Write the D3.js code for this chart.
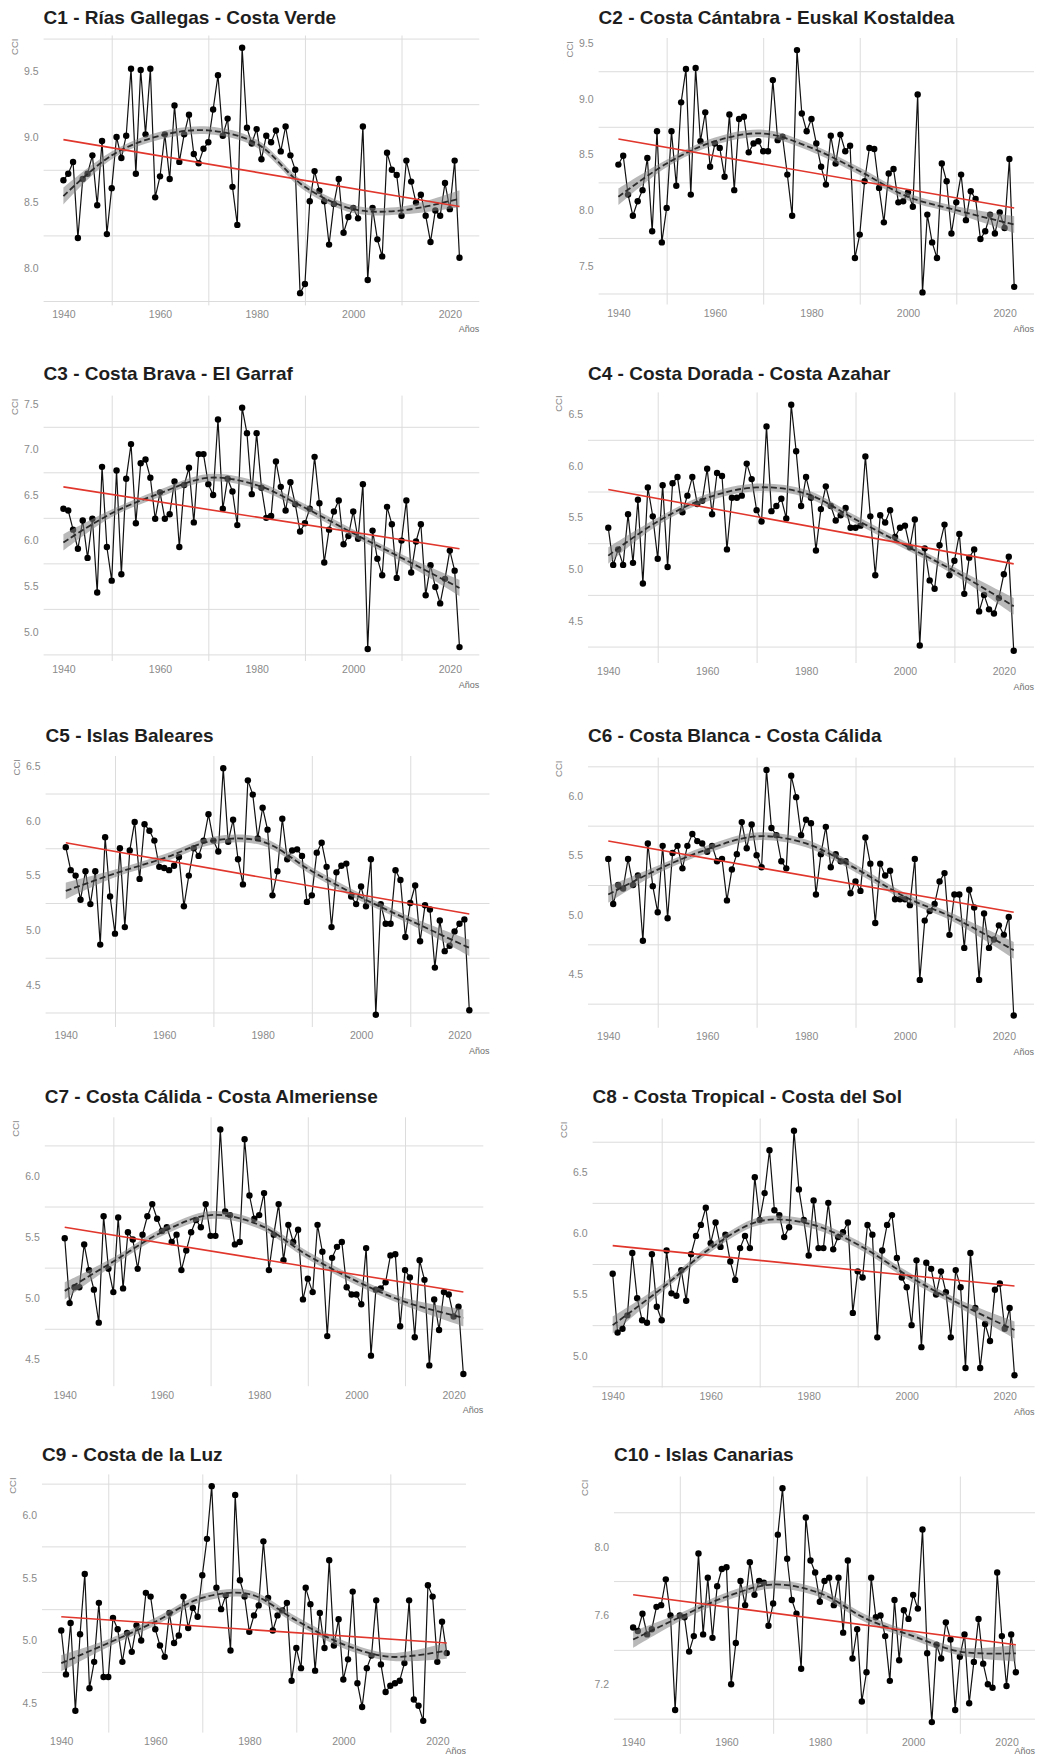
<!DOCTYPE html>
<html>
<head>
<meta charset="utf-8">
<script src="https://cdn.jsdelivr.net/npm/d3@7"></script>
<style>
  body { margin: 0; background: #ffffff; }
  svg { display: block; }
</style>
</head>
<body>
<svg id="chart" width="1037" height="1758"></svg>
<script>
// ---------------- DATA ----------------
const firstYear = 1940, lastYear = 2022;
const years = d3.range(firstYear, lastYear + 1);
const xTicks = [1940, 1960, 1980, 2000, 2020];
const xLabel = "Años";
const yLabel = "CCI";

const titles = [
  "C1 - Rías Gallegas - Costa Verde",
  "C2 - Costa Cántabra - Euskal Kostaldea",
  "C3 - Costa Brava - El Garraf",
  "C4 - Costa Dorada - Costa Azahar",
  "C5 - Islas Baleares",
  "C6 - Costa Blanca - Costa Cálida",
  "C7 - Costa Cálida - Costa Almeriense",
  "C8 - Costa Tropical - Costa del Sol",
  "C9 - Costa de la Luz",
  "C10 - Islas Canarias"
];

const c1 = [8.67,8.72,8.81,8.23,8.68,8.72,8.86,8.48,8.97,8.26,
  8.61,9.00,8.84,9.01,9.52,8.72,9.51,9.02,9.52,8.54,
  8.70,9.02,8.68,9.24,8.81,9.02,9.17,8.87,8.80,8.91,
  8.96,9.21,9.47,9.01,9.14,8.62,8.33,9.68,9.07,8.95,
  9.06,8.83,9.01,8.96,9.05,8.89,9.08,8.86,8.75,7.81,
  7.88,8.51,8.74,8.59,8.51,8.18,8.49,8.68,8.27,8.39,
  8.46,8.38,9.08,7.91,8.46,8.22,8.09,8.88,8.75,8.71,
  8.40,8.82,8.66,8.50,8.56,8.40,8.20,8.44,8.40,8.65,
  8.45,8.82,8.08];
const c2 = [8.41,8.49,8.14,7.95,8.08,8.18,8.47,7.81,8.71,7.71,
  8.02,8.71,8.22,8.97,9.27,8.14,9.28,8.62,8.88,8.39,
  8.60,8.56,8.30,8.86,8.18,8.82,8.84,8.52,8.60,8.62,
  8.53,8.53,9.17,8.63,8.66,8.32,7.95,9.44,8.87,8.71,
  8.82,8.60,8.39,8.23,8.67,8.42,8.68,8.53,8.58,7.57,
  7.78,8.26,8.56,8.55,8.20,7.89,8.33,8.37,8.07,8.08,
  8.16,8.03,9.04,7.26,7.96,7.71,7.57,8.42,8.26,7.79,
  8.07,8.32,7.91,8.17,8.10,7.74,7.81,7.96,7.79,7.98,
  7.84,8.46,7.31];
const c3 = [6.35,6.33,6.12,5.91,6.22,5.81,6.24,5.43,6.81,5.93,
  5.56,6.77,5.63,6.68,7.06,6.19,6.85,6.89,6.69,6.24,
  6.53,6.24,6.29,6.65,5.93,6.61,6.80,6.20,6.95,6.95,
  6.62,6.50,7.33,6.35,6.68,6.54,6.17,7.46,7.18,6.51,
  7.18,6.58,6.25,6.27,6.87,6.59,6.33,6.64,6.40,6.10,
  6.19,6.35,6.92,6.41,5.76,6.12,6.32,6.44,5.96,6.05,
  6.32,6.02,6.62,4.81,6.11,5.80,5.62,6.37,6.18,5.59,
  6.00,6.44,5.65,5.99,6.18,5.40,5.73,5.49,5.31,5.58,
  5.89,5.67,4.83];
const c4 = [5.40,5.04,5.19,5.04,5.53,5.06,5.67,4.86,5.79,5.51,
  5.10,5.81,5.02,5.83,5.89,5.55,5.71,5.89,5.63,5.66,
  5.97,5.53,5.93,5.90,5.19,5.69,5.69,5.71,6.02,5.87,
  5.57,5.46,6.38,5.56,5.61,5.68,5.49,6.59,6.14,5.61,
  5.89,5.69,5.18,5.58,5.80,5.61,5.47,5.52,5.59,5.40,
  5.40,5.42,6.09,5.51,4.94,5.52,5.45,5.57,5.31,5.40,
  5.42,5.21,5.48,4.26,5.20,4.89,4.81,5.23,5.43,4.94,
  5.08,5.34,4.76,5.11,5.19,4.59,4.75,4.61,4.57,4.72,
  4.95,5.12,4.21];
const c5 = [5.76,5.55,5.50,5.28,5.54,5.24,5.54,4.87,5.85,5.31,
  4.97,5.75,5.03,5.73,5.99,5.47,5.97,5.91,5.82,5.58,
  5.57,5.55,5.59,5.67,5.22,5.50,5.75,5.68,5.82,6.06,
  5.82,5.72,6.48,5.81,6.01,5.65,5.42,6.37,6.24,5.84,
  6.12,5.92,5.32,5.54,6.02,5.65,5.73,5.74,5.68,5.26,
  5.32,5.71,5.80,5.58,5.03,5.53,5.59,5.61,5.31,5.24,
  5.40,5.22,5.65,4.23,5.24,5.06,5.06,5.55,5.46,4.94,
  5.25,5.41,4.90,5.23,5.19,4.66,5.09,4.81,4.86,4.99,
  5.06,5.10,4.27];
const c6 = [5.47,5.09,5.25,5.22,5.47,5.25,5.33,4.78,5.60,5.24,
  5.02,5.58,4.97,5.52,5.58,5.39,5.58,5.68,5.62,5.60,
  5.53,5.58,5.45,5.47,5.12,5.38,5.51,5.78,5.56,5.76,
  5.50,5.40,6.22,5.73,5.67,5.45,5.39,6.17,5.99,5.67,
  5.80,5.77,5.17,5.51,5.74,5.40,5.51,5.45,5.45,5.18,
  5.28,5.20,5.65,5.43,4.93,5.43,5.33,5.37,5.13,5.13,
  5.13,5.08,5.47,4.45,4.95,5.03,5.09,5.28,5.35,4.83,
  5.17,5.17,4.72,5.21,5.06,4.45,5.01,4.72,4.79,4.91,
  4.83,4.98,4.15];
const c7 = [5.49,4.96,5.09,5.09,5.44,5.23,5.07,4.80,5.67,5.24,
  5.05,5.66,5.08,5.54,5.48,5.24,5.52,5.67,5.77,5.65,
  5.55,5.58,5.46,5.52,5.23,5.39,5.54,5.64,5.58,5.77,
  5.51,5.51,6.38,5.71,5.68,5.44,5.46,6.30,5.84,5.65,
  5.68,5.86,5.23,5.52,5.77,5.31,5.60,5.46,5.56,4.99,
  5.16,5.05,5.60,5.38,4.69,5.33,5.42,5.46,5.09,5.03,
  5.03,4.95,5.41,4.53,5.07,5.08,5.13,5.35,5.36,4.77,
  5.23,5.17,4.68,5.31,5.15,4.45,4.99,4.74,5.05,5.03,
  4.85,4.93,4.38];
const c8 = [5.67,5.19,5.22,5.33,5.84,5.47,5.29,5.27,5.83,5.40,
  5.29,5.86,5.51,5.49,5.70,5.45,5.83,5.98,6.07,6.21,
  5.92,6.09,5.89,5.99,5.77,5.62,5.88,5.98,5.88,6.46,
  6.11,6.33,6.68,6.19,6.15,5.97,6.05,6.84,6.36,6.11,
  5.82,6.27,5.88,5.88,6.25,5.87,5.97,6.01,6.09,5.35,
  5.69,5.64,6.07,5.99,5.15,5.86,6.07,6.15,5.80,5.64,
  5.56,5.25,5.78,5.07,5.76,5.71,5.50,5.69,5.52,5.15,
  5.70,5.56,4.90,5.84,5.39,4.90,5.26,5.12,5.54,5.59,
  5.22,5.39,4.84];
const c9 = [5.08,4.73,5.14,4.44,5.05,5.53,4.62,4.83,5.30,4.71,
  4.71,5.18,5.09,4.83,5.06,4.91,5.12,5.00,5.38,5.35,
  5.09,4.96,4.87,5.22,4.98,5.04,5.35,5.10,5.26,5.19,
  5.52,5.81,6.23,5.42,5.25,5.36,4.92,6.16,5.48,5.35,
  5.07,5.20,5.28,5.79,5.34,5.08,5.20,5.24,5.30,4.68,
  4.94,4.78,5.42,5.29,4.76,5.22,4.94,5.64,4.96,5.17,
  4.69,4.85,5.39,4.66,4.47,4.78,4.88,5.32,4.81,4.59,
  4.64,4.66,4.68,4.82,5.32,4.53,4.48,4.36,5.44,5.35,
  4.83,5.15,4.90];
const c10 = [7.53,7.51,7.61,7.49,7.52,7.65,7.66,7.81,7.60,7.05,
  7.60,7.59,7.39,7.48,7.96,7.49,7.82,7.47,7.77,7.87,
  7.88,7.20,7.44,7.80,7.66,7.91,7.72,7.80,7.79,7.54,
  7.67,8.07,8.34,7.93,7.69,7.61,7.29,8.17,7.92,7.85,
  7.68,7.80,7.82,7.66,7.82,7.50,7.92,7.35,7.52,7.10,
  7.27,7.82,7.59,7.60,7.48,7.22,7.69,7.34,7.63,7.58,
  7.72,7.64,8.10,7.38,6.98,7.43,7.35,7.56,7.46,7.05,
  7.36,7.49,7.09,7.33,7.58,7.32,7.20,7.18,7.85,7.48,
  7.19,7.49,7.27];
const series = [c1, c2, c3, c4, c5, c6, c7, c8, c9, c10];

// y-axis tick labels per panel
const yTicks = [
  [8.0, 8.5, 9.0, 9.5],
  [7.5, 8.0, 8.5, 9.0, 9.5],
  [5.0, 5.5, 6.0, 6.5, 7.0, 7.5],
  [4.5, 5.0, 5.5, 6.0, 6.5],
  [4.5, 5.0, 5.5, 6.0, 6.5],
  [4.5, 5.0, 5.5, 6.0],
  [4.5, 5.0, 5.5, 6.0],
  [5.0, 5.5, 6.0, 6.5],
  [4.5, 5.0, 5.5, 6.0],
  [7.2, 7.6, 8.0]
];

// loess smooth (at these years)
const smoothYears = [1940, 1950, 1960, 1970, 1980, 1990, 2000, 2010, 2022];
const smooth1 = [8.55, 8.86, 9.01, 9.05, 8.95, 8.62, 8.45, 8.44, 8.53];
const smooth2 = [8.12, 8.42, 8.62, 8.69, 8.56, 8.35, 8.12, 8.00, 7.87];
const smooth3 = [5.98, 6.30, 6.52, 6.69, 6.61, 6.36, 6.08, 5.81, 5.48];
const smooth4 = [5.13, 5.46, 5.69, 5.79, 5.73, 5.48, 5.23, 4.98, 4.64];
const smooth5 = [5.36, 5.52, 5.66, 5.82, 5.81, 5.54, 5.30, 5.09, 4.84];
const smooth6 = [5.17, 5.38, 5.55, 5.66, 5.60, 5.39, 5.15, 4.97, 4.70];
const smooth7 = [5.06, 5.30, 5.54, 5.68, 5.60, 5.35, 5.14, 4.97, 4.84];
const smooth8 = [5.25, 5.55, 5.88, 6.10, 6.08, 5.91, 5.66, 5.44, 5.21];
const smooth9 = [4.82, 4.98, 5.15, 5.34, 5.37, 5.16, 4.97, 4.87, 4.92];
const smooth10 = [7.46, 7.59, 7.71, 7.78, 7.73, 7.58, 7.48, 7.39, 7.38];
const smooths = [smooth1, smooth2, smooth3, smooth4, smooth5, smooth6, smooth7, smooth8, smooth9, smooth10];
// confidence band half-width (mid-series and at the ends)
const ciMid = [0.030, 0.034, 0.041, 0.037, 0.035, 0.033, 0.032, 0.032, 0.031, 0.023];
const ciEnd = [0.065, 0.075, 0.090, 0.080, 0.075, 0.070, 0.070, 0.070, 0.065, 0.048];

// linear trend (value at 1940 and at 2022)
const lmStart = [8.98, 8.64, 6.59, 5.77, 5.80, 5.62, 5.58, 5.90, 5.19, 7.72];
const lmEnd   = [8.47, 8.02, 5.91, 5.05, 5.15, 5.02, 5.05, 5.57, 4.98, 7.43];

// ---------------- LAYOUT ----------------
const layout = [
  {left: 43.6,  right: 479.3,  top: 35.5,   bottom: 305.4,  titleY: 24},
  {left: 598.6, right: 1034,   top: 38,     bottom: 304.5,  titleY: 24},
  {left: 43.6,  right: 479.3,  top: 395.6,  bottom: 661,    titleY: 380},
  {left: 588,   right: 1034,   top: 392.4,  bottom: 663,    titleY: 380},
  {left: 45.6,  right: 489.5,  top: 756,    bottom: 1027,   titleY: 742},
  {left: 588,   right: 1034,   top: 757.6,  bottom: 1027.8, titleY: 742},
  {left: 44.8,  right: 483.3,  top: 1117.3, bottom: 1386.2, titleY: 1103},
  {left: 592.6, right: 1034.6, top: 1118.5, bottom: 1387.5, titleY: 1103},
  {left: 42,    right: 466,    top: 1474.4, bottom: 1732.6, titleY: 1461},
  {left: 614,   right: 1035,   top: 1476.5, bottom: 1733.8, titleY: 1461}
];

const FONT = "'Liberation Sans', Arial, Helvetica, sans-serif";
const svg = d3.select("#chart");
svg.append("rect").attr("width", 1037).attr("height", 1758).attr("fill", "#fff");

series.forEach((vals, i) => {
  const L = layout[i];
  const span = lastYear - firstYear;
  const x = d3.scaleLinear()
    .domain([firstYear - span * 0.05, lastYear + span * 0.05])
    .range([L.left, L.right]);
  const ext = d3.extent(vals);
  const pad = (ext[1] - ext[0]) * 0.05;
  const y = d3.scaleLinear().domain([ext[0] - pad, ext[1] + pad]).range([L.bottom, L.top]);

  const g = svg.append("g").attr("class", "panel");

  // minor gridlines (the visible ones in the reference)
  const t = yTicks[i];
  const step = t[1] - t[0];
  const [d0, d1] = y.domain();
  const minorY = [t[0] - step / 2].concat(t.map(v => v + step / 2)).filter(v => v >= d0 && v <= d1);
  const [xd0, xd1] = x.domain();
  const minorX = [1930, 1950, 1970, 1990, 2010, 2030].filter(v => v >= xd0 && v <= xd1);

  g.append("g")
    .attr("transform", `translate(${L.left},0)`)
    .call(d3.axisLeft(y).tickValues(minorY).tickSize(-(L.right - L.left)).tickFormat(""))
    .call(a => a.select(".domain").remove())
    .call(a => a.selectAll("line").attr("stroke", "#dcdcdc").attr("stroke-width", 1));
  g.append("g")
    .attr("transform", `translate(0,${L.bottom})`)
    .call(d3.axisBottom(x).tickValues(minorX).tickSize(-(L.bottom - L.top)).tickFormat(""))
    .call(a => a.select(".domain").remove())
    .call(a => a.selectAll("line").attr("stroke", "#dcdcdc").attr("stroke-width", 1));

  // axes labels
  g.append("g")
    .attr("transform", `translate(${L.left},0)`)
    .call(d3.axisLeft(y).tickValues(t).tickSize(0).tickPadding(5).tickFormat(d3.format(".1f")))
    .call(a => a.select(".domain").remove())
    .call(a => a.selectAll("text").attr("fill", "#8a8a8a").style("font-family", FONT).style("font-size", "10.5px"));
  g.append("g")
    .attr("transform", `translate(0,${L.bottom})`)
    .call(d3.axisBottom(x).tickValues(xTicks).tickSize(0).tickPadding(5).tickFormat(d3.format("d")))
    .call(a => a.select(".domain").remove())
    .call(a => a.selectAll("text").attr("fill", "#8a8a8a").style("font-family", FONT).style("font-size", "10.5px"));

  // axis titles
  g.append("text")
    .attr("transform", `translate(${L.left - 26},${L.top + 3}) rotate(-90)`)
    .attr("text-anchor", "end")
    .attr("fill", "#8a8a8a")
    .style("font-family", FONT).style("font-size", "9.5px")
    .text(yLabel);
  g.append("text")
    .attr("x", L.right).attr("y", Math.min(L.bottom + 27, 1754))
    .attr("text-anchor", "end")
    .attr("fill", "#6e6e6e")
    .style("font-family", FONT).style("font-size", "9px")
    .text(xLabel);

  // title
  g.append("text")
    .attr("x", L.left).attr("y", L.titleY)
    .attr("fill", "#1e1e1e")
    .style("font-family", FONT).style("font-size", "19px").style("font-weight", "bold")
    .text(titles[i]);

  const data = years.map((yr, j) => ({yr, v: vals[j]}));

  // series line + points
  g.append("path")
    .datum(data)
    .attr("fill", "none").attr("stroke", "#111").attr("stroke-width", 1.2)
    .attr("d", d3.line().x(d => x(d.yr)).y(d => y(d.v)));
  g.append("g").selectAll("circle").data(data).join("circle")
    .attr("cx", d => x(d.yr)).attr("cy", d => y(d.v)).attr("r", 3.2)
    .attr("fill", "#000");

  // smooth with confidence ribbon
  const sm = smoothYears.map((yr, k) => {
    const half = (k === 0 || k === smoothYears.length - 1) ? ciEnd[i] : ciMid[i];
    return {yr, v: smooths[i][k], lo: smooths[i][k] - half, hi: smooths[i][k] + half};
  });
  g.append("path").datum(sm)
    .attr("fill", "#808080").attr("fill-opacity", 0.55)
    .attr("d", d3.area().x(d => x(d.yr)).y0(d => y(d.lo)).y1(d => y(d.hi)).curve(d3.curveCatmullRom));
  g.append("path").datum(sm)
    .attr("fill", "none").attr("stroke", "#2a2a2a").attr("stroke-width", 1.8)
    .attr("stroke-dasharray", "6,3")
    .attr("d", d3.line().x(d => x(d.yr)).y(d => y(d.v)).curve(d3.curveCatmullRom));

  // linear trend
  g.append("path").datum([{yr: firstYear, v: lmStart[i]}, {yr: lastYear, v: lmEnd[i]}])
    .attr("fill", "none").attr("stroke", "#e0362c").attr("stroke-width", 1.6)
    .attr("d", d3.line().x(d => x(d.yr)).y(d => y(d.v)));
});
</script>
</body>
</html>
